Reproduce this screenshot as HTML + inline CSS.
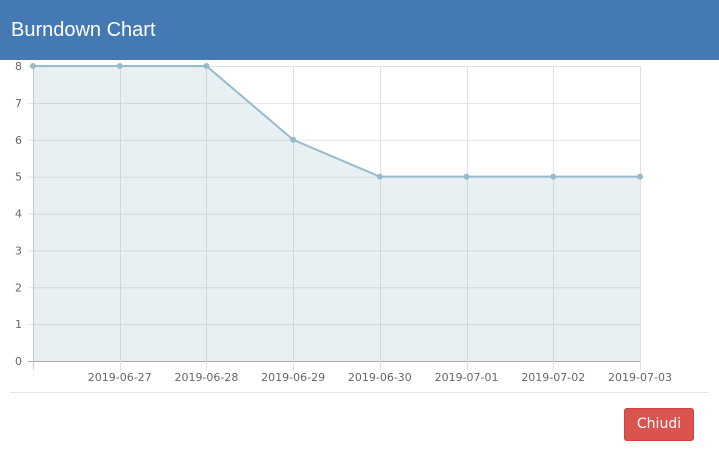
<!DOCTYPE html>
<html><head><meta charset="utf-8"><style>
body{margin:0;width:719px;height:454px;background:#fff;font-family:"Liberation Sans",sans-serif;overflow:hidden;position:relative}
#hdr{position:absolute;left:0;top:0;width:719px;height:60px;background:#4479b4}
#title{position:absolute;left:11px;top:19px;color:#fff;font-size:20px}
#sep{position:absolute;left:10px;top:392px;width:699px;height:1px;background:#e5e5e5}
#btn{position:absolute;left:624px;top:408px;width:70px;height:33px;background:#d9534f;border:1px solid #d43f3a;box-sizing:border-box;border-radius:3px;color:#fff;font-size:14px;line-height:31px;text-align:center;font-family:"DejaVu Sans",sans-serif}
svg{position:absolute;left:0;top:0}
</style></head><body>
<div id="hdr"><div id="title">Burndown Chart</div></div>
<svg id="chart" width="719" height="454"></svg>
<div id="sep"></div>
<div id="btn">Chiudi</div>
<script>
const categories=["2019-06-26","2019-06-27","2019-06-28","2019-06-29","2019-06-30","2019-07-01","2019-07-02","2019-07-03"];
const remaining=[8,8,8,6,5,5,5,5];
const yTicks=[0,1,2,3,4,5,6,7,8];
const svg=document.getElementById('chart');
const NS='http://www.w3.org/2000/svg';
const x0=33,x1=640,y0=361,y1=66,yMax=8;
const X=i=>x0+i*(x1-x0)/(categories.length-1);
const Y=v=>y0-v*(y0-y1)/yMax;
function mk(t,a,p){const e=document.createElementNS(NS,t);for(const k in a)e.setAttribute(k,a[k]);(p||svg).appendChild(e);return e;}
yTicks.forEach(v=>{
 const l=mk('line',{x1:28,x2:x1,y1:Y(v)+.5,y2:Y(v)+.5,stroke:v===0?'#aaa':'#e2e2e2'});
 
 
 const t=mk('text',{x:22,y:Y(v)+4,'text-anchor':'end','font-size':11,fill:'#666','font-family':'DejaVu Sans, sans-serif'});
 t.textContent=v;
 
 
});
categories.forEach((c,i)=>{
 const l=mk('line',{x1:Math.round(X(i))+.5,x2:Math.round(X(i))+.5,y1:y1,y2:370,stroke:i===0?'#ccc':'#e2e2e2'});
 
 
 if(i>0){const t=mk('text',{x:X(i),y:381,'text-anchor':'middle','font-size':11,fill:'#666','font-family':'DejaVu Sans, sans-serif'});
 t.textContent=c;
 
 }
});
const pts=remaining.map((v,i)=>X(i)+','+Y(v)).join(' ');
const area=mk('polygon',{points:X(0)+','+y0+' '+pts+' '+X(remaining.length-1)+','+y0,fill:'rgba(151,187,205,0.22)'});


const line=mk('polyline',{points:pts,fill:'none',stroke:'#97bbcd',"stroke-width":2});


remaining.forEach((v,i)=>{
 const c=mk('circle',{cx:X(i),cy:Y(v),r:3,fill:'#97bbcd'});
 
 
});
</script>
</body></html>
